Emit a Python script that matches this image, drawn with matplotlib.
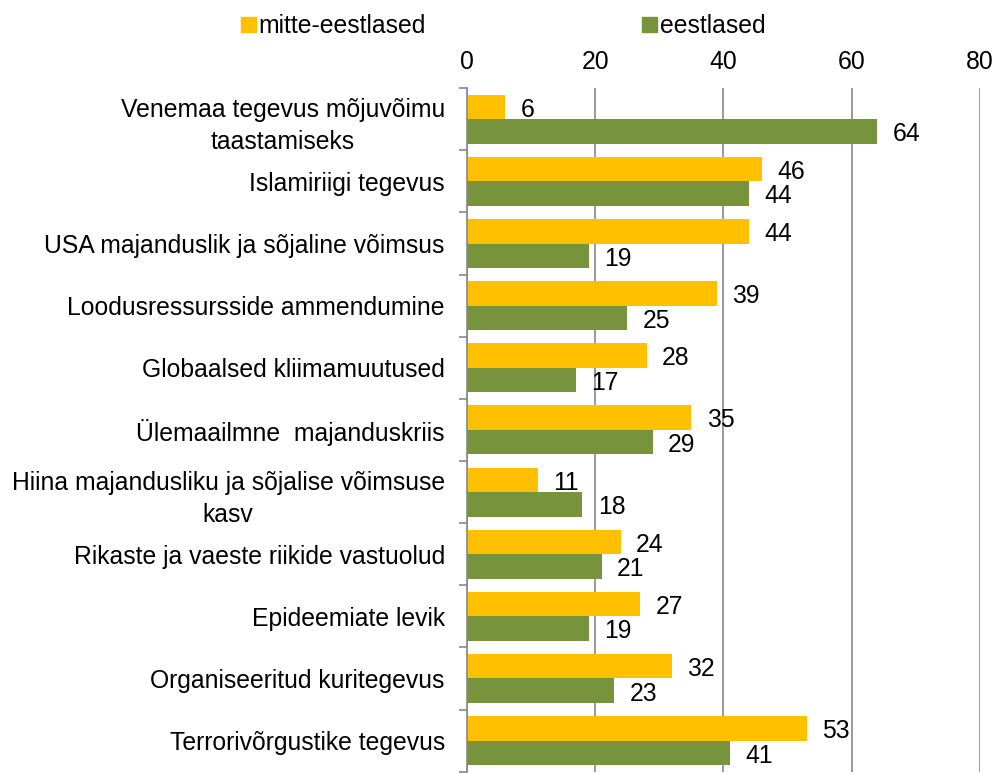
import numpy as np
import matplotlib.pyplot as plt
from matplotlib.patches import Patch

plt.rcParams['font.family'] = ['Liberation Sans', 'DejaVu Sans']

categories = ['Venemaa tegevus mõjuvõimu\ntaastamiseks',
              'Islamiriigi tegevus',
              'USA majanduslik ja sõjaline võimsus',
              'Loodusressursside ammendumine',
              'Globaalsed kliimamuutused',
              'Ülemaailmne  majanduskriis',
              'Hiina majandusliku ja sõjalise võimsuse\nkasv',
              'Rikaste ja vaeste riikide vastuolud',
              'Epideemiate levik',
              'Organiseeritud kuritegevus',
              'Terrorivõrgustike tegevus']
mitte_eestlased = [6, 46, 44, 39, 28, 35, 11, 24, 27, 32, 53]
eestlased = [64, 44, 19, 25, 17, 29, 18, 21, 19, 23, 41]
series_names = ['mitte-eestlased', 'eestlased']
colors = ['#FFC000', '#77933C']
xticks = [0, 20, 40, 60, 80]

fs = 17.8

fig = plt.figure(figsize=(9.97, 7.74), dpi=100)
ax = fig.add_axes([0.4684, 0.003, 0.5145, 0.883])

y = np.arange(len(categories))
h = 0.395
b1 = ax.barh(y - h / 2, mitte_eestlased, height=h, color=colors[0])
b2 = ax.barh(y + h / 2, eestlased, height=h, color=colors[1])

for bars, vals in [(b1, mitte_eestlased), (b2, eestlased)]:
    for bar, v in zip(bars, vals):
        ax.annotate(str(v), (v, bar.get_y() + bar.get_height() / 2),
                    xytext=(11, -2), textcoords='offset points',
                    ha='left', va='center', fontsize=fs)

ax.set_xlim(0, 80)
ax.set_ylim(len(categories) - 0.5, -0.5)
ax.xaxis.tick_top()
ax.set_xticks(xticks)
ax.tick_params(axis='x', length=0, labelsize=fs, pad=10)
ax.grid(axis='x', color='#888888', linewidth=1.2)
ax.set_axisbelow(True)

ax.set_yticks(y)
ax.set_yticklabels(categories, fontsize=fs, multialignment='center', linespacing=1.45)
ax.tick_params(axis='y', which='major', length=0, pad=16)
ax.set_yticks(np.arange(len(categories) + 1) - 0.5, minor=True)
ax.tick_params(axis='y', which='minor', length=6, color='#888888', width=1.2)

for s in ['top', 'right', 'bottom']:
    ax.spines[s].set_visible(False)
ax.spines['left'].set_color('#888888')
ax.spines['left'].set_linewidth(1.2)

handles = [Patch(color=c) for c in colors]
fig.legend(handles, series_names, loc='center left', bbox_to_anchor=(0.2417, 0.966),
           ncol=2, frameon=False, fontsize=fs, handlelength=0.6, handleheight=0.6,
           handletextpad=0.12, columnspacing=8.75, borderaxespad=0, borderpad=0)

fig.savefig('out.png', dpi=100)
